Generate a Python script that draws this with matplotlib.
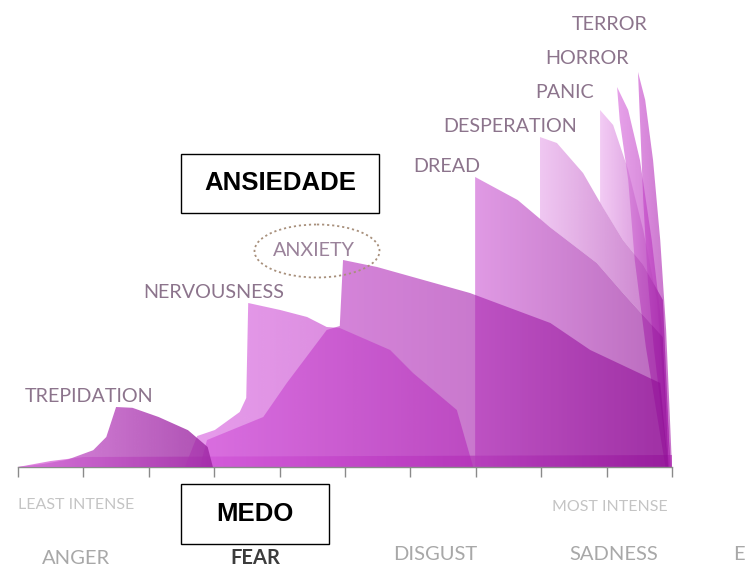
import numpy as np
import matplotlib
matplotlib.use("Agg")
import matplotlib.pyplot as plt
from matplotlib.patches import Polygon, Ellipse, Rectangle
from matplotlib.colors import to_rgb

# ---------------- data (intensity scale 0-10, height 0-100) ----------------
trep_x = [0, 0.4, 0.75, 1.15, 1.35, 1.5, 1.75, 2.15, 2.6, 2.9, 2.98]
trep_y = [0, 0.8, 1.8, 4.2, 7.5, 15, 14.8, 12.5, 9.2, 5, 0]

nerv_x = [2.55, 2.74, 3.01, 3.39, 3.49, 3.52, 4.01, 4.42, 4.72, 4.92, 5.69, 6.04, 6.71, 6.96]
nerv_y = [0, 7.75, 9.25, 13.75, 17.25, 41, 39.25, 37.5, 35, 34.75, 29.25, 23.5, 14.25, 0]

anx_x = [2.78, 2.89, 3.75, 4.11, 4.72, 4.92, 4.97, 5.49, 6.91, 8.14, 8.75, 9.82, 9.94]
anx_y = [0, 6.75, 12.5, 21, 34.25, 35.25, 51.75, 50, 43.5, 36, 29.25, 21, 0]

dread_x = [6.99, 6.99, 7.64, 8.13, 8.85, 9.25, 9.86, 9.95]
dread_y = [0, 72.5, 66.75, 60, 51, 43.5, 32.5, 0]

desp_x = [7.98, 7.98, 8.24, 8.64, 8.94, 9.25, 9.56, 9.86, 9.97, 9.86, 9.25, 8.85, 8.13]
desp_y = [62, 82.5, 81, 73.5, 65, 56.75, 50.5, 41.75, 0, 32.5, 43.5, 51, 60]

panic_x = [8.90, 8.90, 9.10, 9.33, 9.56, 9.77, 9.97, 9.86, 9.56, 9.25]
panic_y = [66, 89.25, 85.5, 74.25, 59.25, 41.75, 0, 41.75, 50.5, 56.75]

horror_x = [9.16, 9.33, 9.51, 9.69, 9.85, 9.98, 9.90, 9.60, 9.43, 9.33, 9.20]
horror_y = [95, 89.25, 76.75, 56.75, 34.25, 0, 0, 30, 51.75, 71.75, 86.75]

terror_x = [9.48, 9.59, 9.71, 9.82, 9.91, 10.0, 9.94, 9.72, 9.63, 9.56, 9.51]
terror_y = [98.75, 91.75, 76.75, 56.75, 34.25, 0, 0, 30, 46.75, 66.75, 86.75]

base_x = [0, 0.5, 1.0, 10.0, 10.0]
base_y = [0, 1.5, 2.5, 3.0, 0]

state_labels = ["TREPIDATION", "NERVOUSNESS", "ANXIETY", "DREAD",
                "DESPERATION", "PANIC", "HORROR", "TERROR"]
emotions = ["ANGER", "FEAR", "DISGUST", "SADNESS", "E"]
ticks = list(range(0, 11))

# ---------------- figure ----------------
W, H = 746, 567
fig = plt.figure(figsize=(W / 100, H / 100), dpi=100)
fig.patch.set_facecolor("white")

x0, x1, yb, yt = 18, 672, 467, 67
ax = fig.add_axes([x0 / W, 1 - yb / H, (x1 - x0) / W, (yb - yt) / H])
ax.set_xlim(0, 10)
ax.set_ylim(0, 100)
ax.patch.set_alpha(0)


def grad_fill(xs, ys, c_left, c_right, alpha, z):
    poly = Polygon(np.column_stack([xs, ys]), closed=True, facecolor="none",
                   edgecolor="none", zorder=z)
    ax.add_patch(poly)
    xmin, xmax = min(xs), max(xs)
    ymin, ymax = min(ys), max(ys)
    n = 256
    t = np.linspace(0, 1, n)
    cl, cr = np.array(to_rgb(c_left)), np.array(to_rgb(c_right))
    row = cl[None, :] * (1 - t[:, None]) + cr[None, :] * t[:, None]
    img = np.zeros((2, n, 4))
    img[:, :, :3] = row[None, :, :]
    img[:, :, 3] = alpha
    im = ax.imshow(img, extent=[xmin, xmax, ymin, ymax], origin="lower",
                   aspect="auto", interpolation="bilinear", zorder=z)
    im.set_clip_path(poly)


grad_fill(base_x, base_y, "#c828c8", "#a818a8", 0.55, 1)
grad_fill(terror_x, terror_y, "#c846cd", "#a014a5", 0.6, 2)
grad_fill(horror_x, horror_y, "#d764dc", "#aa1eaf", 0.6, 2)
grad_fill(panic_x, panic_y, "#ebaaee", "#aa28af", 0.6, 2)
grad_fill(desp_x, desp_y, "#e6a3e9", "#a01ea5", 0.6, 2)
grad_fill(dread_x, dread_y, "#cd5cd4", "#900e96", 0.62, 2)
grad_fill(anx_x, anx_y, "#cc4ad4", "#900e96", 0.62, 2)
grad_fill(nerv_x, nerv_y, "#d85ce0", "#b42cba", 0.6, 2)
grad_fill(trep_x, trep_y, "#d470d8", "#9a24a0", 0.8, 3)

for s in ["top", "right", "left"]:
    ax.spines[s].set_visible(False)
ax.spines["bottom"].set_color("#8a8a8a")
ax.spines["bottom"].set_linewidth(1.0)
ax.set_xticks(ticks)
ax.set_xticklabels([])
ax.set_yticks([])
ax.tick_params(axis="x", direction="out", length=7, width=1.0, color="#8a8a8a")

# ---------------- overlay for texts (pixel coordinates) ----------------
ov = fig.add_axes([0, 0, 1, 1])
ov.set_xlim(0, W)
ov.set_ylim(H, 0)
ov.axis("off")
ov.patch.set_alpha(0)

lab_font = ["Lato", "DejaVu Sans"]
lab_pos = [(25, 397), (143, 293), (273, 250), (413, 167),
           (443, 126), (535, 92), (545, 58), (572, 24)]
for txt, (lx, ly) in zip(state_labels, lab_pos):
    ov.text(lx, ly, txt, fontsize=14.2, family=lab_font,
            color="#9a829a" if txt == "ANXIETY" else "#8c748c",
            ha="left", va="center")

ov.add_patch(Ellipse((317, 251), 125, 53, fill=False, edgecolor="#a8907c",
                     linestyle=(0, (1.2, 1.6)), linewidth=1.3))

ov.text(18, 505, "LEAST INTENSE", fontsize=11.5, family=lab_font,
        color="#c4c4c4", ha="left", va="center")
ov.text(668, 507, "MOST INTENSE", fontsize=11.5, family=lab_font,
        color="#c4c4c4", ha="right", va="center")

emo_pos = [(76, 558), (255, 558), (435, 555), (614, 555), (733, 555)]
for txt, (ex, ey) in zip(emotions, emo_pos):
    if txt == "FEAR":
        ov.text(ex, ey, txt, fontsize=14.5, family=lab_font, color="#3c3c3c",
                fontweight="bold", ha="center", va="center")
    elif txt == "E":
        ov.text(ex, ey, txt, fontsize=14.5, family=lab_font, color="#a8a8a8",
                ha="left", va="center")
    else:
        ov.text(ex, ey, txt, fontsize=14.5, family=lab_font, color="#a8a8a8",
                ha="center", va="center")

box_font = ["Liberation Sans", "DejaVu Sans"]
ov.add_patch(Rectangle((181, 154), 198, 59, fill=True, facecolor="white",
                       edgecolor="black", linewidth=1.0, zorder=5))
ov.text(280, 183, "ANSIEDADE", fontsize=18.5, family=box_font,
        fontweight="bold", color="black", ha="center", va="center", zorder=6)
ov.add_patch(Rectangle((181, 484), 148, 60, fill=True, facecolor="white",
                       edgecolor="black", linewidth=1.0, zorder=5))
ov.text(255, 514, "MEDO", fontsize=18.5, family=box_font,
        fontweight="bold", color="black", ha="center", va="center", zorder=6)

fig.savefig("out.png", dpi=100)
